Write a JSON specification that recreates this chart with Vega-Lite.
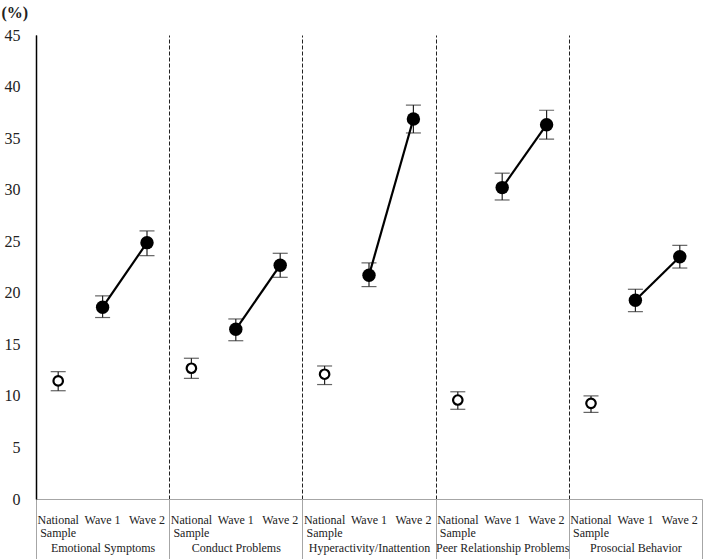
{
  "$schema": "https://vega.github.io/schema/vega-lite/v6.json",
  "width": 666,
  "height": 464,
  "autosize": {"type": "none"},
  "padding": {"left": 36, "top": 35, "right": 7, "bottom": 60},
  "background": "white",
  "config": {"view": {"stroke": null}, "font": "Liberation Serif, DejaVu Serif, serif"},
  "data": {
    "values": [
      {"group": "Emotional Symptoms", "cat": "National Sample", "id": "ES-N", "value": 11.45, "lo": 10.5, "hi": 12.35},
      {"group": "Emotional Symptoms", "cat": "Wave 1", "id": "ES-W1", "value": 18.6, "lo": 17.6, "hi": 19.7},
      {"group": "Emotional Symptoms", "cat": "Wave 2", "id": "ES-W2", "value": 24.86, "lo": 23.6, "hi": 26.0},
      {"group": "Conduct Problems", "cat": "National Sample", "id": "CP-N", "value": 12.68, "lo": 11.7, "hi": 13.65},
      {"group": "Conduct Problems", "cat": "Wave 1", "id": "CP-W1", "value": 16.46, "lo": 15.35, "hi": 17.46},
      {"group": "Conduct Problems", "cat": "Wave 2", "id": "CP-W2", "value": 22.67, "lo": 21.5, "hi": 23.83},
      {"group": "Hyperactivity/Inattention", "cat": "National Sample", "id": "HI-N", "value": 12.1, "lo": 11.1, "hi": 12.9},
      {"group": "Hyperactivity/Inattention", "cat": "Wave 1", "id": "HI-W1", "value": 21.7, "lo": 20.6, "hi": 22.9},
      {"group": "Hyperactivity/Inattention", "cat": "Wave 2", "id": "HI-W2", "value": 36.86, "lo": 35.5, "hi": 38.2},
      {"group": "Peer Relationship Problems", "cat": "National Sample", "id": "PR-N", "value": 9.6, "lo": 8.7, "hi": 10.4},
      {"group": "Peer Relationship Problems", "cat": "Wave 1", "id": "PR-W1", "value": 30.2, "lo": 29.0, "hi": 31.6},
      {"group": "Peer Relationship Problems", "cat": "Wave 2", "id": "PR-W2", "value": 36.3, "lo": 34.9, "hi": 37.7},
      {"group": "Prosocial Behavior", "cat": "National Sample", "id": "PB-N", "value": 9.28, "lo": 8.4, "hi": 10.0},
      {"group": "Prosocial Behavior", "cat": "Wave 1", "id": "PB-W1", "value": 19.27, "lo": 18.17, "hi": 20.34},
      {"group": "Prosocial Behavior", "cat": "Wave 2", "id": "PB-W2", "value": 23.5, "lo": 22.4, "hi": 24.6}
    ]
  },
  "layer": [
    {
      "mark": {"type": "rule", "opacity": 0},
      "encoding": {
        "x": {
          "field": "group",
          "type": "nominal",
          "sort": ["Emotional Symptoms", "Conduct Problems", "Hyperactivity/Inattention", "Peer Relationship Problems", "Prosocial Behavior"],
          "scale": {"paddingInner": 0, "paddingOuter": 0},
          "axis": {
            "orient": "bottom",
            "title": null,
            "domain": false,
            "ticks": true,
            "tickBand": "extent",
            "tickSize": 60,
            "tickColor": "#a6a6a6",
            "tickWidth": 1,
            "labelAngle": 0,
            "labelFont": "Liberation Serif",
            "labelFontSize": 12,
            "labelColor": "#222222",
            "labelPadding": -17,
            "labelOverlap": false,
            "grid": true,
            "gridColor": "#222222",
            "gridDash": [4, 2],
            "gridWidth": 1,
            "gridOpacity": {"condition": {"test": "datum.value === 'Prosocial Behavior'", "value": 0}, "value": 1}
          }
        }
      }
    },
    {
      "layer": [
        {
          "mark": {"type": "rule", "color": "#222222", "strokeWidth": 1.2},
          "encoding": {
            "x": {
              "field": "id",
              "type": "nominal",
              "sort": ["ES-N", "ES-W1", "ES-W2", "CP-N", "CP-W1", "CP-W2", "HI-N", "HI-W1", "HI-W2", "PR-N", "PR-W1", "PR-W2", "PB-N", "PB-W1", "PB-W2"],
              "scale": {"paddingInner": 0, "paddingOuter": 0},
              "axis": {
                "orient": "bottom",
                "title": null,
                "domain": true,
                "domainColor": "#a6a6a6",
                "domainWidth": 1,
                "ticks": false,
                "grid": false,
                "labelAngle": 0,
                "labelFont": "Liberation Serif",
                "labelFontSize": 12,
                "labelColor": "#222222",
                "labelPadding": 15,
                "labelLineHeight": 13,
                "labelOverlap": false,
                "labelExpr": "slice(datum.value, -1) === 'N' ? ['National', 'Sample'] : (slice(datum.value, -1) === '1' ? 'Wave 1' : 'Wave 2')"
              }
            },
            "y": {
              "field": "lo",
              "type": "quantitative",
              "scale": {"domain": [0, 45], "nice": false, "zero": true},
              "axis": {
                "title": "(%)",
                "titleAngle": 0,
                "titleAlign": "left",
                "titleBaseline": "middle",
                "titleX": -35,
                "titleY": -23,
                "titleFont": "Liberation Serif",
                "titleFontSize": 16,
                "titleFontWeight": "bold",
                "titleColor": "#222222",
                "values": [0, 5, 10, 15, 20, 25, 30, 35, 40, 45],
                "domainColor": "#000000",
                "domainWidth": 1.5,
                "ticks": false,
                "grid": false,
                "labelFont": "Liberation Serif",
                "labelFontSize": 16,
                "labelPadding": 16,
                "labelColor": "#222222"
              }
            },
            "y2": {"field": "hi"}
          }
        },
        {
          "mark": {"type": "tick", "color": "#222222", "thickness": 1.2, "size": 15},
          "encoding": {
            "x": {"field": "id", "type": "nominal", "sort": ["ES-N", "ES-W1", "ES-W2", "CP-N", "CP-W1", "CP-W2", "HI-N", "HI-W1", "HI-W2", "PR-N", "PR-W1", "PR-W2", "PB-N", "PB-W1", "PB-W2"]},
            "y": {"field": "lo", "type": "quantitative"}
          }
        },
        {
          "mark": {"type": "tick", "color": "#222222", "thickness": 1.2, "size": 15},
          "encoding": {
            "x": {"field": "id", "type": "nominal", "sort": ["ES-N", "ES-W1", "ES-W2", "CP-N", "CP-W1", "CP-W2", "HI-N", "HI-W1", "HI-W2", "PR-N", "PR-W1", "PR-W2", "PB-N", "PB-W1", "PB-W2"]},
            "y": {"field": "hi", "type": "quantitative"}
          }
        },
        {
          "transform": [{"filter": "datum.cat !== 'National Sample'"}],
          "mark": {"type": "line", "color": "#000000", "strokeWidth": 2.2},
          "encoding": {
            "x": {"field": "id", "type": "nominal", "sort": ["ES-N", "ES-W1", "ES-W2", "CP-N", "CP-W1", "CP-W2", "HI-N", "HI-W1", "HI-W2", "PR-N", "PR-W1", "PR-W2", "PB-N", "PB-W1", "PB-W2"]},
            "y": {"field": "value", "type": "quantitative"},
            "detail": {"field": "group", "type": "nominal"}
          }
        },
        {
          "transform": [{"filter": "datum.cat === 'National Sample'"}],
          "mark": {"type": "point", "filled": false, "fill": "white", "fillOpacity": 1, "stroke": "#000000", "strokeWidth": 2.2, "size": 90, "opacity": 1},
          "encoding": {
            "x": {"field": "id", "type": "nominal", "sort": ["ES-N", "ES-W1", "ES-W2", "CP-N", "CP-W1", "CP-W2", "HI-N", "HI-W1", "HI-W2", "PR-N", "PR-W1", "PR-W2", "PB-N", "PB-W1", "PB-W2"]},
            "y": {"field": "value", "type": "quantitative"}
          }
        },
        {
          "transform": [{"filter": "datum.cat !== 'National Sample'"}],
          "mark": {"type": "circle", "color": "#000000", "size": 180, "opacity": 1},
          "encoding": {
            "x": {"field": "id", "type": "nominal", "sort": ["ES-N", "ES-W1", "ES-W2", "CP-N", "CP-W1", "CP-W2", "HI-N", "HI-W1", "HI-W2", "PR-N", "PR-W1", "PR-W2", "PB-N", "PB-W1", "PB-W2"]},
            "y": {"field": "value", "type": "quantitative"}
          }
        }
      ]
    }
  ],
  "resolve": {"scale": {"x": "independent"}}
}
